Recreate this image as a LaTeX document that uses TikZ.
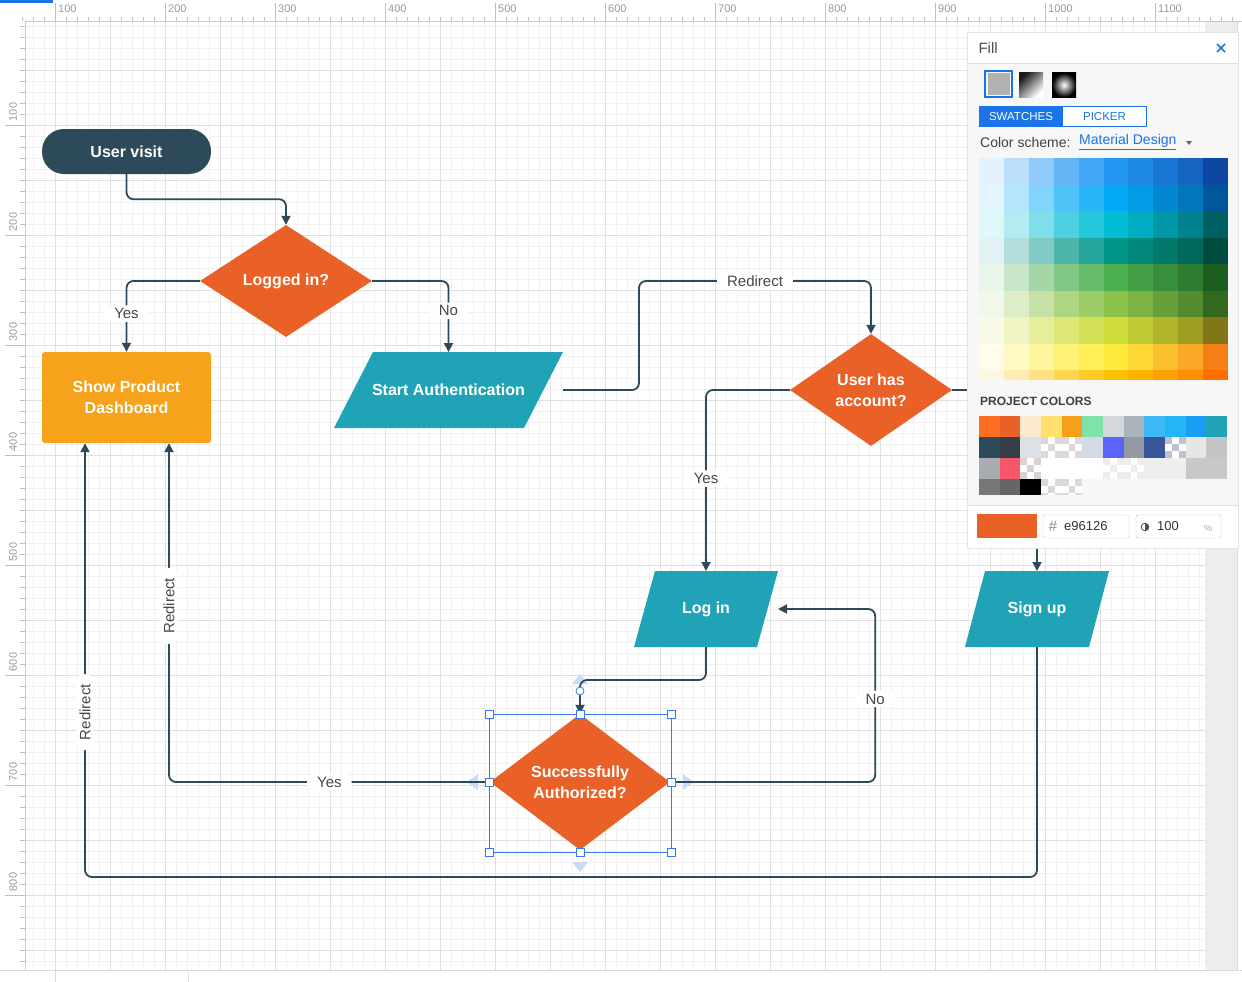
\documentclass[tikz,border=0pt]{standalone}
\usepackage{fontspec}
\setmainfont{Liberation Sans}
\usetikzlibrary{shapes.geometric,arrows.meta}
\definecolor{slate}{HTML}{2D4A5A}
\definecolor{flame}{HTML}{E96126}
\definecolor{marigold}{HTML}{F7A21B}
\definecolor{lagoon}{HTML}{21A3B7}
\definecolor{lbltext}{HTML}{484848}
\definecolor{gridminor}{HTML}{F1F1F1}
\definecolor{gridmajor}{HTML}{E0E0E0}
\definecolor{selblue}{HTML}{3B78E7}
\definecolor{hintblue}{HTML}{CADCFA}
\definecolor{uiblue}{HTML}{1A73E8}
\definecolor{panelbg}{HTML}{F7F7F7}
\definecolor{rulertext}{HTML}{9A9A9A}

\begin{document}
\begin{tikzpicture}[x=1pt, y=-1pt,
    every node/.style={text=white},
    nodefont/.style={font=\fontsize{16}{21}\selectfont\bfseries},
    startbox/.style={nodefont, rectangle, rounded corners=22, fill=slate, minimum width=169, minimum height=45},
    actionbox/.style={nodefont, rectangle, rounded corners=3, fill=marigold, minimum width=169, minimum height=91, align=center},
    decision/.style={nodefont, diamond, fill=flame, inner sep=0, align=center},
    slantbox/.style={nodefont, rectangle, minimum height=76, outer sep=0,
        path picture={\fill[lagoon] ([xshift=#1]path picture bounding box.north west)
            -- (path picture bounding box.north east) -- ([xshift=-#1]path picture bounding box.south east)
            -- (path picture bounding box.south west) -- cycle;}},
    flow/.style={draw=slate, line width=1.8, rounded corners=7, -{Triangle[length=9pt,width=9pt]}},
    lbl/.style={fill=white, text=lbltext, font=\fontsize{15}{18}\selectfont, inner xsep=10, inner ysep=3},
    rulerlbl/.style={text=rulertext, font=\fontsize{11}{13}\selectfont, inner sep=0},
    handle/.style={draw=selblue, fill=white, line width=0.8},
    ]
\useasboundingbox (0,0) rectangle (1242,982);
\fill[white] (0,0) rectangle (1242,982);

% grid
\foreach \x in {33,44,...,1205} \draw[gridminor, line width=0.6] (\x,21) -- (\x,970);
\foreach \y in {26,37,...,970} \draw[gridminor, line width=0.6] (25,\y) -- (1205,\y);
\foreach \x in {55,110,...,1200} \draw[gridmajor, line width=0.8] (\x,21) -- (\x,970);
\foreach \y in {70,125,...,960} \draw[gridmajor, line width=0.8] (25,\y) -- (1205,\y);
\fill[black!7] (1205,21) rectangle (1237,970);
\draw[black!15] (1237,21) -- (1237,970);

% move hints of the selected shape
\fill[hintblue] (572,684) -- (588,684) -- (580,674) -- cycle;
\fill[hintblue] (572,862) -- (588,862) -- (580,872) -- cycle;
\fill[hintblue] (478,774) -- (478,790) -- (467,782) -- cycle;
\fill[hintblue] (683,774) -- (683,790) -- (694,782) -- cycle;

% shapes
\node[startbox] (visit) at (126.5,151.5) {User visit};
\node[decision, minimum width=172, minimum height=112] (logged) at (286,281) {Logged in?};
\node[actionbox] (dash) at (126.5,397.5) {Show Product\\Dashboard};
\node[slantbox=39, minimum width=229] (auth) at (448.5,390) {Start Authentication};
\node[decision, minimum width=162, minimum height=112] (account) at (871,390) {User has\\account?};
\node[slantbox=21, minimum width=144] (login) at (706,609) {Log in};
\node[slantbox=20, minimum width=144] (signup) at (1037,609) {Sign up};
\node[decision, minimum width=180, minimum height=136] (success) at (580,782) {Successfully\\Authorized?};

% connectors
\draw[flow] (visit.south) -- ++(0,25) -| (logged);
\draw[flow] (logged.west) -| node[lbl, pos=0.73] {Yes} (dash);
\draw[flow] (logged.east) -| node[lbl, pos=0.71] {No} (auth);
\draw[flow] (auth.east) -| ++(76,-109) -| node[lbl, pos=0.25] {Redirect} (account);
\draw[flow] (account.west) -| node[lbl, pos=0.745] {Yes} (login);
\draw[flow] (account.east) -| (signup);
\draw[flow] (login.south) -- ++(0,33) -| (success);
\draw[flow] (success.east) -| node[lbl, pos=0.74] {No} ++(205,-173) -- (login.east);
\draw[flow] (success.west) -| node[lbl, pos=0.25] {Yes} node[lbl, pos=0.76, rotate=90] {Redirect} ([xshift=42.5]dash.south);
\draw[flow] (signup.south) -- ++(0,230) -| node[lbl, pos=0.69, rotate=90] {Redirect} ([xshift=-41.5]dash.south);

% selection of the last shape
\draw[selblue, line width=0.8] (489,714) rectangle (671,852);
\foreach \hx/\hy in {489/714,580/714,671/714,489/782,671/782,489/852,580/852,671/852}
  \draw[handle] (\hx-4,\hy-4) rectangle ++(8,8);
\draw[handle] (580,691) circle (4);

% fill panel
\fill[black!10] (967,32) rectangle (1239,549);
\fill[white] (968,33) rectangle (1238,548);
\fill[panelbg] (968,63) rectangle (1238,505);
\draw[black!12] (968,63) -- (1238,63);
\draw[black!12] (968,505) -- (1238,505);
\node[anchor=west, text=black!70, font=\fontsize{15}{18}\selectfont] (filltitle) at (975,48) {Fill};
\draw[uiblue, line width=1.6] (1217,44) -- (1225,52) (1217,52) -- (1225,44);

\draw[uiblue, line width=1.5] (985,71) rectangle (1012,97);
\fill[black!30] (987.5,73.5) rectangle (1009.5,94.5);
\shade[top color=black!90, bottom color=white, shading angle=45] (1019,73) rectangle (1043,97);
\shade[inner color=white, outer color=black] (1052,73) rectangle (1076,97);

\fill[white] (979,106) rectangle (1146,126);
\fill[uiblue] (979,106) rectangle (1063,126);
\draw[uiblue, line width=1] (979,106) rectangle (1146,126);
\node[font=\fontsize{11.5}{13}\selectfont] (swatches) at (1021,116.5) {SWATCHES};
\node[text=uiblue, font=\fontsize{11.5}{13}\selectfont] (picker) at (1104.5,116.5) {PICKER};

\node[anchor=west, text=black!75, font=\fontsize{14}{17}\selectfont, inner sep=0] (scheme) at (980,142) {Color scheme:};
\node[anchor=west, text=uiblue, font=\fontsize{14}{17}\selectfont, inner sep=0] (schemename) at (1079,142) {\underline{Material Design}};
\fill[black!60] (1186,141) -- (1192,141) -- (1189,145) -- cycle;

% material palette
\foreach \r/\h/\cl in {
  0/26.5/{E3F2FD,BBDEFB,90CAF9,64B5F6,42A5F5,2196F3,1E88E5,1976D2,1565C0,0D47A1},
  1/26.5/{E1F5FE,B3E5FC,81D4FA,4FC3F7,29B6F6,03A9F4,039BE5,0288D1,0277BD,01579B},
  2/26.5/{E0F7FA,B2EBF2,80DEEA,4DD0E1,26C6DA,00BCD4,00ACC1,0097A7,00838F,006064},
  3/26.5/{E0F2F1,B2DFDB,80CBC4,4DB6AC,26A69A,009688,00897B,00796B,00695C,004D40},
  4/26.5/{E8F5E9,C8E6C9,A5D6A7,81C784,66BB6A,4CAF50,43A047,388E3C,2E7D32,1B5E20},
  5/26.5/{F1F8E9,DCEDC8,C5E1A5,AED581,9CCC65,8BC34A,7CB342,689F38,558B2F,33691E},
  6/26.5/{F9FBE7,F0F4C3,E6EE9C,DCE775,D4E157,CDDC39,C0CA33,AFB42B,9E9D24,827717},
  7/26.5/{FFFDE7,FFF9C4,FFF59D,FFF176,FFEE58,FFEB3B,FDD835,FBC02D,F9A825,F57F17},
  8/10/{FFF8E1,FFECB3,FFE082,FFD54F,FFCA28,FFC107,FFB300,FFA000,FF8F00,FF6F00}}
  {\foreach \c [count=\i from 0] in \cl {
    \definecolor{cell}{HTML}{\c}
    \fill[cell] ({979+24.9*\i},{158+26.5*\r}) rectangle ++(24.9,\h);}}

% project colors
\node[anchor=west, text=black!75, font=\fontsize{12}{14}\selectfont\bfseries, inner sep=0] (project) at (980,401) {PROJECT COLORS};
\foreach \r/\h/\cl in {
  0/21/{FF6D1F,E96126,FDE8D0,FFE16B,F5A01A,80E2A8,D4D8DD,AAB3BB,3DBAF5,22B5F8,1A9EF5,21A3B7},
  1/21/{2D4A5A,363F47,DDE1E6,FFFFFF,FFFFFF,D2DAE3,5C63FA,939AA6,3A569B,FFFFFF,E6E6E6,C4C4C4},
  2/21/{A9ACAF,F5566A,FFFFFF,FFFFFF,FFFFFF,FFFFFF,FFFFFF,FFFFFF,EEEEEE,EEEEEE,C8C8C8,C8C8C8},
  3/16/{777777,666666,000000,FFFFFF,FFFFFF}}
  {\foreach \c [count=\i from 0] in \cl {
    \definecolor{cell}{HTML}{\c}
    \fill[cell] ({979+20.67*\i},{416+21*\r}) rectangle ++(20.67,\h);}}
\foreach \ci/\ri/\cc in {3/1/black!15,4/1/black!15,9/1/blue!25!black!25,2/2/red!20!black!18,6/2/black!7,7/2/black!7,3/3/black!15,4/3/black!15}
  \foreach \i in {0,1,2} \foreach \j in {0,1,2} {
    \pgfmathtruncatemacro\odd{mod(\i+\j,2)}
    \ifnum\odd=0 \fill[\cc] ({979+20.67*\ci+6.89*\i},{416+21*\ri+7*\j}) rectangle ++(6.89,{min(7,495-416-21*\ri-7*\j)}); \fi}

% current colour
\fill[flame] (977,514) rectangle (1037,538);
\draw[black!22, fill=white, rounded corners=2] (1043,515) rectangle (1129,538);
\node[text=black!45, font=\fontsize{15}{17}\selectfont] (hash) at (1053,526.5) {\#};
\node[anchor=west, text=black!80, font=\fontsize{13}{15}\selectfont, inner sep=0] (hex) at (1064,526.5) {e96126};
\draw[black!22, fill=white, rounded corners=2] (1136,515) rectangle (1221,538);
\draw[black!70, line width=0.8] (1145,527) circle (3.8);
\begin{scope}
  \clip (1145,520) rectangle (1151,534);
  \fill[black!70] (1145,527) circle (3.8);
\end{scope}
\node[anchor=west, text=black!80, font=\fontsize{13}{15}\selectfont, inner sep=0] (opacity) at (1157,526.5) {100};
\node[text=black!35, font=\fontsize{9}{11}\selectfont] (percent) at (1208,528) {\%};

% rulers
\fill[white] (0,0) rectangle (1242,21);
\fill[white] (0,21) rectangle (25,970);
\fill[uiblue] (0,0) rectangle (53,3);
\draw[black!20] (25,21) -- (1242,21);
\draw[black!20] (25,21) -- (25,970);
\foreach \x in {22,33,...,1240} \draw[black!25, line width=0.6] (\x,21) -- (\x,17);
\foreach \y in {26,37,...,968} \draw[black!25, line width=0.6] (25,\y) -- (20,\y);
\foreach \x/\v in {55/100,165/200,275/300,385/400,495/500,605/600,715/700,825/800,935/900,1045/1000,1155/1100} {
  \draw[black!25, line width=0.6] (\x,21) -- (\x,3);
  \node[rulerlbl, anchor=west] (top\v) at (\x+3,9) {\v};}
\foreach \y/\v in {125/100,235/200,345/300,455/400,565/500,675/600,785/700,895/800} {
  \draw[black!25, line width=0.6] (5,\y) -- (25,\y);
  \node[rulerlbl, rotate=90] (left\v) at (13,\y-13) {\v};}

% status bar
\fill[white] (0,970) rectangle (1242,982);
\draw[black!15] (0,970.5) -- (1242,970.5);
\draw[black!15] (55,970) -- (55,982);
\draw[black!10] (188,970) -- (188,982);
\end{tikzpicture}
\end{document}
